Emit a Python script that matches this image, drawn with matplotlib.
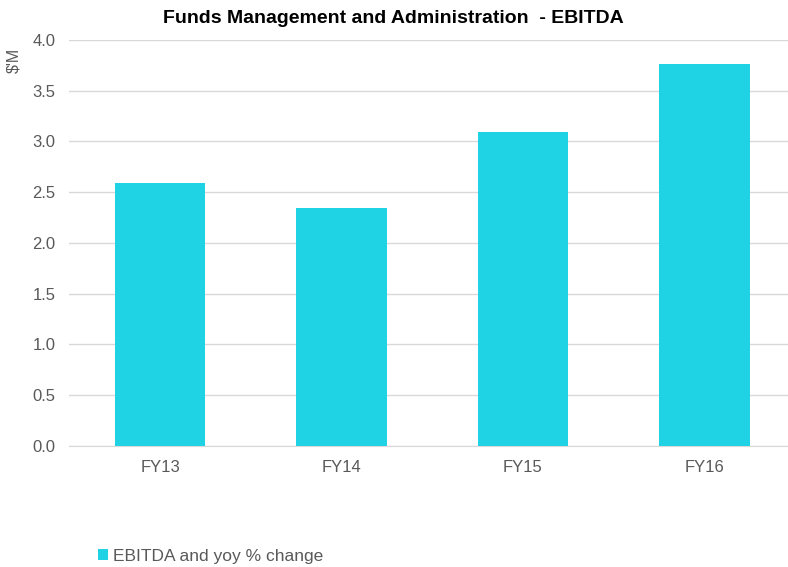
import numpy as np
import matplotlib.pyplot as plt

plt.rcParams['font.family'] = ['Liberation Sans', 'DejaVu Sans']

years = ['FY13', 'FY14', 'FY15', 'FY16']
ebitda = [2.59, 2.34, 3.09, 3.76]

fig = plt.figure(figsize=(7.88, 5.67), dpi=100)
ax = fig.add_axes([0.088, 0.2134, 0.921, 0.7161])

x = np.arange(len(years))
ax.bar(x, ebitda, width=0.5, color='#1fd3e5', label='EBITDA and yoy % change', zorder=3)

ax.set_xlim(-0.5, 3.5)
ax.set_ylim(0, 4.0)
ax.set_yticks(np.arange(0, 4.01, 0.5))
ax.set_yticklabels(['%.1f' % v for v in np.arange(0, 4.01, 0.5)])
ax.set_xticks(x)
ax.set_xticklabels(years)
ax.tick_params(axis='both', length=0, labelsize=12, labelcolor='#595959')
ax.tick_params(axis='y', pad=10)
ax.tick_params(axis='x', pad=10)
ax.grid(axis='y', color='#d9d9d9', linewidth=1, zorder=0)
for s in ['top', 'right', 'left']:
    ax.spines[s].set_visible(False)
ax.spines['bottom'].set_color('#d9d9d9')

fig.text(0.499, 0.968, 'Funds Management and Administration  - EBITDA', ha='center', va='center',
         fontsize=14, fontweight='bold', color='black')
fig.text(0.017, 0.894, "$'M", rotation=90, ha='center', va='center', fontsize=11.5, color='#595959')

fig.legend(loc='lower left', bbox_to_anchor=(0.105, -0.022), frameon=False, fontsize=12.5,
           handlelength=0.55, handleheight=0.55, handletextpad=0.3, labelcolor='#595959')

fig.savefig('out.png', dpi=100)
